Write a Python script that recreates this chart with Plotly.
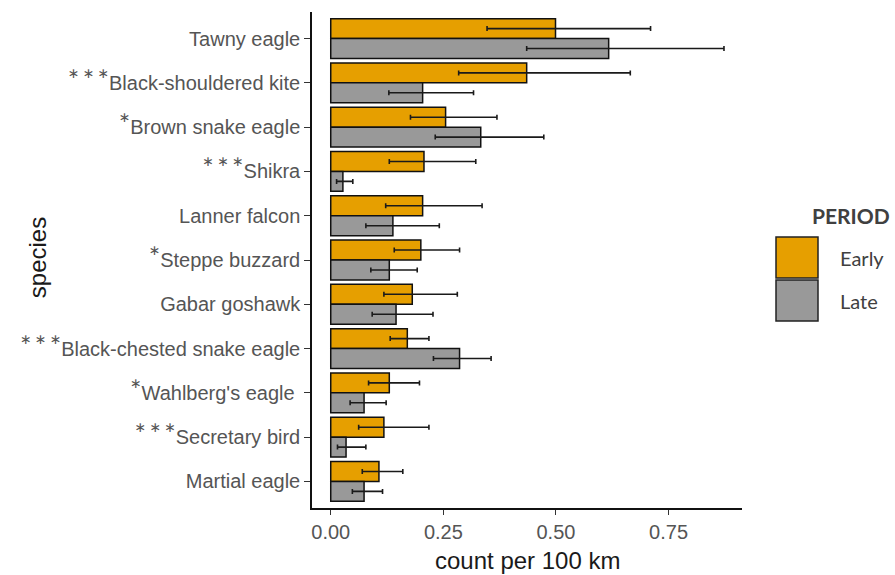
import plotly.graph_objects as go

# Raptor counts per 100 km in two survey periods (means with 95% CIs)
species = [
    "Tawny eagle", "Black-shouldered kite", "Brown snake eagle", "Shikra",
    "Lanner falcon", "Steppe buzzard", "Gabar goshawk",
    "Black-chested snake eagle", "Wahlberg's eagle", "Secretary bird",
    "Martial eagle",
]
significance = ["", "***", "*", "***", "", "*", "", "***", "*", "***", ""]

early_mean = [0.499, 0.435, 0.255, 0.207, 0.204, 0.200, 0.181, 0.170, 0.130, 0.118, 0.107]
early_low = [0.347, 0.284, 0.177, 0.130, 0.122, 0.141, 0.118, 0.132, 0.084, 0.062, 0.070]
early_high = [0.710, 0.665, 0.369, 0.322, 0.336, 0.286, 0.281, 0.218, 0.197, 0.218, 0.160]

late_mean = [0.617, 0.204, 0.333, 0.027, 0.138, 0.130, 0.145, 0.286, 0.074, 0.034, 0.074]
late_low = [0.435, 0.129, 0.232, 0.013, 0.078, 0.089, 0.092, 0.228, 0.043, 0.015, 0.048]
late_high = [0.873, 0.317, 0.473, 0.049, 0.241, 0.192, 0.227, 0.356, 0.123, 0.078, 0.115]

x_ticks = [0.0, 0.25, 0.5, 0.75]
x_tick_labels = ["0.00", "0.25", "0.50", "0.75"]

periods = ["Early", "Late"]
colors = {"Early": "#E69F00", "Late": "#999999"}

W, H = 895, 575
M = dict(l=312, r=153, t=12, b=67)


def star_label(stars, name):
    if not stars:
        return name
    s = "\u2009".join(["*"] * len(stars))
    return (f'<span style="font-size:27px;font-family:Lato">{s}</span>{name}')


tick_text = [star_label(s, n) for s, n in zip(significance, species)]
tick_text = [t + "\u00a0" if "Wahlberg" in t else t for t in tick_text]

fig = go.Figure()
for period, mean, lo, hi in [
    ("Early", early_mean, early_low, early_high),
    ("Late", late_mean, late_low, late_high),
]:
    fig.add_trace(go.Bar(
        name=period,
        y=species,
        x=mean,
        orientation="h",
        marker=dict(color=colors[period], line=dict(color="#111111", width=1.5)),
        error_x=dict(
            type="data",
            symmetric=False,
            array=[h - m for h, m in zip(hi, mean)],
            arrayminus=[m - l for m, l in zip(mean, lo)],
            color="#1a1a1a",
            thickness=1.6,
            width=2.5,
        ),
        showlegend=False,
    ))

fig.update_layout(
    width=W, height=H,
    margin=M,
    paper_bgcolor="white",
    plot_bgcolor="white",
    barmode="group",
    bargap=0.1,
    bargroupgap=0,
    font=dict(family="Liberation Sans, Arial, sans-serif", color="#4d4d4d"),
)

fig.update_xaxes(
    range=[-0.0416, 0.913],
    tickvals=x_ticks,
    ticktext=x_tick_labels,
    tickfont=dict(size=20, color="#555555"),
    showline=True, linecolor="#111111", linewidth=1.5,
    ticks="outside", ticklen=5, tickcolor="#333333", tickwidth=1.2,
    showgrid=False, zeroline=False,
)
fig.update_yaxes(
    type="category",
    categoryorder="array",
    categoryarray=species,
    range=[len(species) - 0.4, -0.6],
    tickvals=species,
    ticktext=tick_text,
    tickfont=dict(size=20, color="#555555"),
    showline=True, linecolor="#111111", linewidth=1.5,
    ticks="outside", ticklen=6, tickcolor="#333333", tickwidth=1.2,
    showgrid=False, zeroline=False,
)

# Axis titles
fig.add_annotation(
    text="count per 100 km", xref="paper", yref="paper",
    x=0.5, y=-0.105, yanchor="middle", xanchor="center", showarrow=False,
    font=dict(size=24, color="#1a1a1a"),
)
fig.add_annotation(
    text="species", xref="paper", yref="paper",
    x=-0.638, y=0.505, xanchor="center", yanchor="middle", showarrow=False,
    textangle=-90, font=dict(size=24, color="#1a1a1a"),
)

# Legend for the two periods
pw = W - M["l"] - M["r"]
ph = H - M["t"] - M["b"]


def px_x(p):
    return (p - M["l"]) / pw


def px_y(p):
    return 1 - (p - M["t"]) / ph


fig.add_annotation(
    text="<b>PERIOD</b>", xref="paper", yref="paper",
    x=px_x(810), y=px_y(215), xanchor="left", yanchor="middle",
    showarrow=False, font=dict(family="Lato, sans-serif", size=21, color="#404040"),
)
for i, period in enumerate(periods):
    top = 237 + i * 43
    fig.add_shape(
        type="rect", xref="paper", yref="paper",
        x0=px_x(776), x1=px_x(818), y0=px_y(top), y1=px_y(top + 41),
        fillcolor=colors[period], line=dict(color="#222222", width=1.5),
    )
    fig.add_annotation(
        text=period, xref="paper", yref="paper",
        x=px_x(838), y=px_y(top + 21), xanchor="left", yanchor="middle",
        showarrow=False, font=dict(family="Lato, sans-serif", size=20, color="#404040"),
    )

fig.write_html("out.html")
